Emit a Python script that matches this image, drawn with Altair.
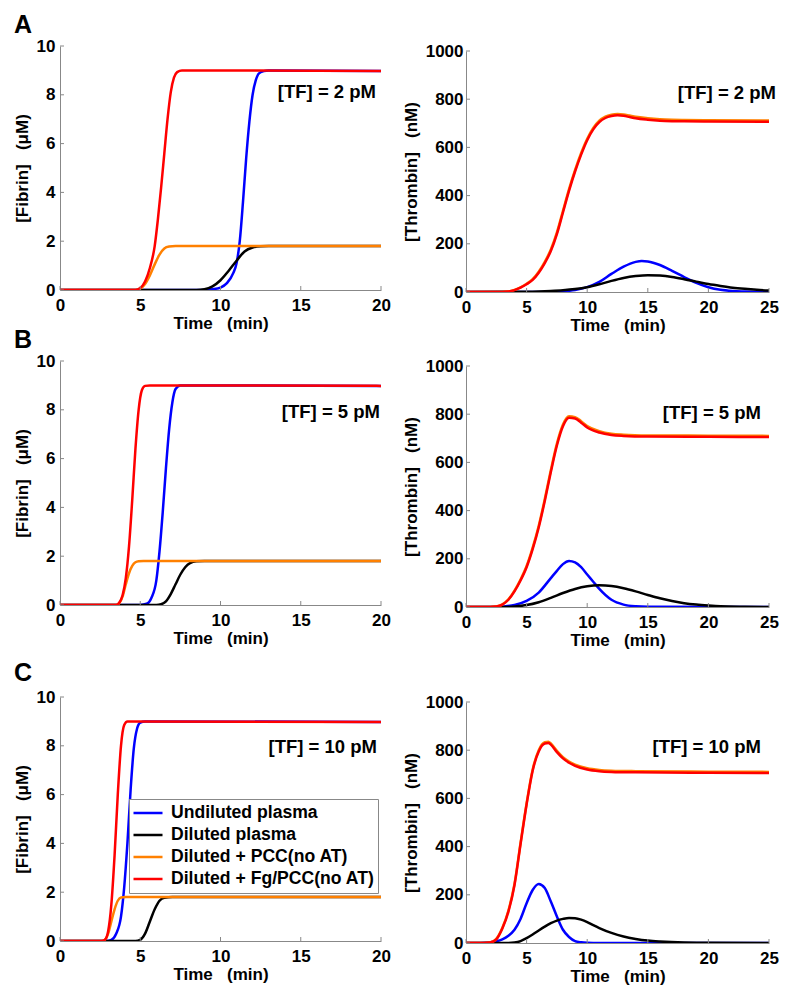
import altair as alt
import pandas as pd

FONT = "Liberation Sans"
SERIES = ["Undiluted plasma", "Diluted plasma", "Diluted + PCC(no AT)", "Diluted + Fg/PCC(no AT)"]
COLORS = ["#0000FF", "#000000", "#FF8000", "#FF0000"]

# ---------------- Panel A, fibrin ([TF] = 2 pM) ----------------
FA_BLUE_T = [0, 9.0, 9.5, 10.0, 10.4, 10.8, 11.0, 11.2, 11.4, 11.6, 11.8, 12.0, 12.2, 12.4, 12.7, 13.0, 20]
FA_BLUE_V = [0, 0, 0.03, 0.1, 0.28, 0.7, 1.1, 2.0, 3.6, 5.4, 6.9, 8.0, 8.6, 8.88, 8.97, 9.0, 8.98]
FA_BLACK_T = [0, 8.5, 9.0, 9.5, 10.0, 10.5, 11.0, 11.5, 12.0, 12.5, 13.0, 20]
FA_BLACK_V = [0, 0, 0.03, 0.15, 0.4, 0.78, 1.2, 1.58, 1.74, 1.79, 1.8, 1.8]
FA_ORANGE_T = [0, 4.7, 5.0, 5.3, 5.6, 5.9, 6.2, 6.5, 6.8, 7.2, 20]
FA_ORANGE_V = [0, 0, 0.06, 0.25, 0.6, 1.05, 1.45, 1.7, 1.78, 1.8, 1.8]
FA_RED_T = [0, 4.7, 5.0, 5.3, 5.6, 5.9, 6.1, 6.3, 6.5, 6.7, 6.9, 7.1, 7.3, 7.6, 20]
FA_RED_V = [0, 0, 0.08, 0.35, 0.9, 1.8, 2.9, 4.2, 5.6, 7.0, 8.1, 8.7, 8.93, 9.0, 8.98]

# ---------------- Panel A, thrombin ----------------
TA_BLUE_T = [0, 6, 7, 8, 9, 10, 11, 12, 13, 14, 14.5, 15, 16, 17, 18, 19, 20, 21, 22, 23, 25]
TA_BLUE_V = [0, 0, 1, 3, 8, 20, 42, 75, 105, 125, 129, 127, 112, 88, 62, 38, 20, 9, 4, 2, 0]
TA_BLACK_T = [0, 5, 6, 7, 8, 9, 10, 11, 12, 13, 14, 15, 16, 17, 18, 19, 20, 21, 22, 23, 24, 25]
TA_BLACK_V = [0, 1, 2, 4, 7, 12, 20, 32, 46, 58, 66, 70, 68, 62, 53, 43, 33, 25, 18, 13, 9, 6]
TA_ORANGE_T = [0, 3.0, 3.5, 4.0, 4.5, 5.0, 5.5, 6.0, 6.5, 7.0, 7.5, 8.0, 8.5, 9.0, 9.5, 10.0, 10.5, 11.0, 11.5, 12.0, 12.5, 13.0, 13.5, 14.0, 15.0, 16.0, 17.0, 18.0, 20.0, 25.0]
TA_ORANGE_V = [0, 0, 2, 9, 19, 34, 53, 84, 125, 176, 247, 337, 427, 507, 577, 636, 681, 711, 728, 736, 739, 737, 732, 727, 721, 717, 715, 714, 713, 712]
TA_RED_T = [0, 3.0, 3.5, 4.0, 4.5, 5.0, 5.5, 6.0, 6.5, 7.0, 7.5, 8.0, 8.5, 9.0, 9.5, 10.0, 10.5, 11.0, 11.5, 12.0, 12.5, 13.0, 13.5, 14.0, 15.0, 16.0, 17.0, 18.0, 20.0, 25.0]
TA_RED_V = [0, 0, 2, 8, 18, 32, 50, 80, 120, 170, 240, 330, 420, 500, 570, 630, 675, 705, 722, 730, 733, 731, 726, 721, 715, 711, 709, 708, 707, 706]

# ---------------- Panel B, fibrin ([TF] = 5 pM) ----------------
FB_BLUE_T = [0, 5.0, 5.4, 5.7, 6.0, 6.2, 6.4, 6.6, 6.8, 7.0, 7.2, 7.5, 20]
FB_BLUE_V = [0, 0, 0.05, 0.3, 1.0, 2.2, 3.8, 5.6, 7.2, 8.3, 8.85, 9.0, 8.98]
FB_BLACK_T = [0, 6.0, 6.3, 6.6, 6.9, 7.2, 7.5, 7.8, 8.1, 8.5, 9.0, 20]
FB_BLACK_V = [0, 0, 0.03, 0.15, 0.45, 0.85, 1.25, 1.55, 1.72, 1.79, 1.8, 1.8]
FB_ORANGE_T = [0, 3.5, 3.7, 3.9, 4.1, 4.3, 4.5, 4.7, 4.9, 5.2, 20]
FB_ORANGE_V = [0, 0, 0.08, 0.35, 0.85, 1.3, 1.6, 1.75, 1.79, 1.8, 1.8]
FB_RED_T = [0, 3.5, 3.7, 3.9, 4.1, 4.3, 4.5, 4.7, 4.9, 5.1, 5.3, 5.6, 20]
FB_RED_V = [0, 0, 0.1, 0.4, 1.1, 2.4, 4.3, 6.4, 8.0, 8.8, 8.98, 9.0, 8.98]

# ---------------- Panel B, thrombin ----------------
TB_BLUE_T = [0, 2, 3, 4, 5, 6, 7, 7.5, 8, 8.5, 9, 9.5, 10, 10.5, 11, 12, 13, 14, 15, 25]
TB_BLUE_V = [0, 0, 2, 8, 25, 60, 120, 150, 178, 191, 185, 165, 135, 105, 75, 30, 10, 3, 1, 0]
TB_BLACK_T = [0, 3, 4, 5, 6, 7, 8, 9, 10, 11, 12, 13, 14, 15, 16, 17, 18, 19, 20, 21, 23, 25]
TB_BLACK_V = [0, 0, 2, 8, 20, 38, 58, 75, 86, 90, 87, 78, 65, 50, 36, 25, 16, 10, 6, 3, 1, 0]
TB_ORANGE_T = [0, 2, 2.5, 3, 3.5, 4, 4.5, 5, 5.5, 6, 6.5, 7, 7.5, 8, 8.5, 9, 9.5, 10, 11, 12, 13, 15, 20, 25]
TB_ORANGE_V = [0, 0, 2, 11, 32, 68, 114, 170, 246, 337, 448, 568, 678, 757, 791, 788, 771, 751, 730, 719, 715, 712, 711, 710]
TB_RED_T = [0, 2, 2.5, 3, 3.5, 4, 4.5, 5, 5.5, 6, 6.5, 7, 7.5, 8, 8.5, 9, 9.5, 10, 11, 12, 13, 15, 20, 25]
TB_RED_V = [0, 0, 2, 10, 30, 65, 110, 165, 240, 330, 440, 560, 670, 750, 785, 782, 765, 745, 724, 714, 710, 707, 706, 705]

# ---------------- Panel C, fibrin ([TF] = 10 pM) ----------------
FC_BLUE_T = [0, 2.9, 3.2, 3.5, 3.8, 4.0, 4.2, 4.4, 4.6, 4.8, 5.0, 5.3, 20]
FC_BLUE_V = [0, 0, 0.05, 0.3, 1.0, 2.2, 4.0, 6.2, 7.9, 8.7, 8.95, 9.0, 8.98]
FC_BLACK_T = [0, 4.7, 5.0, 5.3, 5.6, 5.9, 6.2, 6.5, 7.0, 20]
FC_BLACK_V = [0, 0, 0.05, 0.3, 0.8, 1.3, 1.65, 1.77, 1.8, 1.8]
FC_ORANGE_T = [0, 2.6, 2.8, 3.0, 3.2, 3.4, 3.6, 3.8, 4.1, 20]
FC_ORANGE_V = [0, 0, 0.05, 0.3, 0.8, 1.3, 1.65, 1.78, 1.8, 1.8]
FC_RED_T = [0, 2.6, 2.8, 3.0, 3.2, 3.4, 3.6, 3.8, 4.0, 4.2, 20]
FC_RED_V = [0, 0, 0.05, 0.4, 1.5, 3.5, 6.0, 8.0, 8.85, 9.0, 8.98]

# ---------------- Panel C, thrombin ----------------
TC_BLUE_T = [0, 1, 1.5, 2, 2.5, 3, 3.5, 4, 4.5, 5, 5.5, 6, 6.5, 7, 7.5, 8, 8.5, 9, 9.5, 10, 11, 25]
TC_BLUE_V = [0, 0, 1, 3, 7, 15, 30, 55, 100, 165, 220, 245, 228, 172, 110, 55, 25, 8, 3, 1, 0, 0]
TC_BLACK_T = [0, 3.5, 4, 4.5, 5, 5.5, 6, 6.5, 7, 7.5, 8, 8.5, 9, 9.5, 10, 10.5, 11, 12, 13, 14, 15, 16, 18, 20, 25]
TC_BLACK_V = [0, 0, 2, 8, 20, 35, 52, 68, 82, 93, 100, 104, 103, 97, 87, 74, 62, 42, 27, 17, 10, 6, 2, 1, 0]
TC_ORANGE_T = [0, 1.5, 2, 2.5, 3, 3.5, 4, 4.5, 5, 5.5, 6, 6.5, 6.8, 7, 7.5, 8, 8.5, 9, 10, 11, 12, 14, 20, 25]
TC_ORANGE_V = [0, 0, 2, 17, 63, 135, 245, 415, 580, 720, 800, 833, 835, 828, 797, 771, 753, 740, 725, 718, 715, 713, 711, 710]
TC_RED_T = [0, 1.5, 2, 2.5, 3, 3.5, 4, 4.5, 5, 5.5, 6, 6.5, 6.8, 7, 7.5, 8, 8.5, 9, 10, 11, 12, 14, 20, 25]
TC_RED_V = [0, 0, 2, 15, 60, 130, 240, 410, 575, 715, 795, 828, 830, 823, 792, 766, 748, 735, 720, 713, 710, 708, 706, 705]

FIB_TICKS_X = [0, 5, 10, 15, 20]
THR_TICKS_X = [0, 5, 10, 15, 20, 25]
FIB_TICKS_Y = [0, 2, 4, 6, 8, 10]
THR_TICKS_Y = [0, 200, 400, 600, 800, 1000]


def make_df(pairs):
    rows = []
    for name, (ts, vs) in zip(SERIES, pairs):
        for t, v in zip(ts, vs):
            rows.append({"t": t, "v": v, "s": name})
    return pd.DataFrame(rows)


def panel(pairs, xticks, yticks, ytitle, w, h, tf_text, tf_dx, tf_y,
          ylabpad, letter=None, letter_y=-33, legend=False, ytop=0):
    df = make_df(pairs)
    x_enc = alt.X("t:Q",
                  scale=alt.Scale(domain=[xticks[0], xticks[-1]], nice=False, zero=False),
                  axis=alt.Axis(values=xticks, title="Time\u00a0\u00a0\u00a0(min)",
                                labelPadding=7, titlePadding=2, format="d", labelFlush=False))
    y_enc = alt.Y("v:Q",
                  scale=alt.Scale(domain=[yticks[0], yticks[-1]], nice=False, range=[h, ytop]),
                  axis=alt.Axis(values=yticks, title=ytitle, labelPadding=ylabpad,
                                titlePadding=5, format="d", labelFlush=False))
    if legend:
        leg = alt.Legend(orient="none", legendX=69, legendY=102, title=None,
                         symbolType="stroke", symbolSize=841, symbolStrokeWidth=2.5,
                         clipHeight=22, labelLimit=400,
                         labelFont=FONT, labelFontSize=17.6, labelFontWeight="bold",
                         labelColor="black", labelOffset=7, padding=3, rowPadding=0,
                         strokeColor="#888888", fillColor="white", cornerRadius=0)
    else:
        leg = None
    lines = alt.Chart(df).mark_line(strokeWidth=2.5, interpolate="monotone", clip=True).encode(
        x=x_enc, y=y_enc,
        color=alt.Color("s:N", scale=alt.Scale(domain=SERIES, range=COLORS), legend=leg),
    )
    xt = alt.Chart(pd.DataFrame({"t": xticks})).mark_rule(color="#888888", strokeWidth=1).encode(
        x=x_enc, y=alt.value(h), y2=alt.value(h - 4))
    yt = alt.Chart(pd.DataFrame({"v": yticks})).mark_rule(color="#888888", strokeWidth=1).encode(
        y=y_enc, x=alt.value(0), x2=alt.value(4))
    tf = alt.Chart(pd.DataFrame({"lab": [tf_text]})).mark_text(
        align="right", baseline="alphabetic", font=FONT, fontSize=18.5, fontWeight="bold",
        color="black").encode(x=alt.value(w - tf_dx), y=alt.value(tf_y), text="lab:N")
    layers = [lines, xt, yt, tf]
    if letter:
        lt = alt.Chart(pd.DataFrame({"lab": [letter]})).mark_text(
            align="left", baseline="top", font=FONT, fontSize=25, fontWeight="bold",
            color="black").encode(x=alt.value(-46), y=alt.value(letter_y), text="lab:N")
        layers.append(lt)
    return alt.layer(*layers).properties(width=w, height=h)


FIB_TITLE = "[Fibrin]\u00a0\u00a0\u00a0(\u03bcM)"
THR_TITLE = "[Thrombin]\u00a0\u00a0\u00a0(nM)"
LW, RW, LH, RH, RTOP = 321, 303, 244, 246, 5

fa = panel([(FA_BLUE_T, FA_BLUE_V), (FA_BLACK_T, FA_BLACK_V), (FA_ORANGE_T, FA_ORANGE_V), (FA_RED_T, FA_RED_V)],
           FIB_TICKS_X, FIB_TICKS_Y, FIB_TITLE, LW, LH, "[TF] = 2 pM", 5, 52, 5, letter="A", letter_y=-33)
ta = panel([(TA_BLUE_T, TA_BLUE_V), (TA_BLACK_T, TA_BLACK_V), (TA_ORANGE_T, TA_ORANGE_V), (TA_RED_T, TA_RED_V)],
           THR_TICKS_X, THR_TICKS_Y, THR_TITLE, RW, RH, "[TF] = 2 pM", -7, 53, 3, ytop=RTOP)
fb = panel([(FB_BLUE_T, FB_BLUE_V), (FB_BLACK_T, FB_BLACK_V), (FB_ORANGE_T, FB_ORANGE_V), (FB_RED_T, FB_RED_V)],
           FIB_TICKS_X, FIB_TICKS_Y, FIB_TITLE, LW, LH, "[TF] = 5 pM", 1, 57, 5, letter="B", letter_y=-33)
tb = panel([(TB_BLUE_T, TB_BLUE_V), (TB_BLACK_T, TB_BLACK_V), (TB_ORANGE_T, TB_ORANGE_V), (TB_RED_T, TB_RED_V)],
           THR_TICKS_X, THR_TICKS_Y, THR_TITLE, RW, RH, "[TF] = 5 pM", 8, 58, 3, ytop=RTOP)
fc = panel([(FC_BLUE_T, FC_BLUE_V), (FC_BLACK_T, FC_BLACK_V), (FC_ORANGE_T, FC_ORANGE_V), (FC_RED_T, FC_RED_V)],
           FIB_TICKS_X, FIB_TICKS_Y, FIB_TITLE, LW, LH, "[TF] = 10 pM", 4, 56, 5, letter="C", letter_y=-36,
           legend=True)
tc = panel([(TC_BLUE_T, TC_BLUE_V), (TC_BLACK_T, TC_BLACK_V), (TC_ORANGE_T, TC_ORANGE_V), (TC_RED_T, TC_RED_V)],
           THR_TICKS_X, THR_TICKS_Y, THR_TITLE, RW, RH, "[TF] = 10 pM", 8, 56, 3, ytop=RTOP)

IND = dict(x="independent", y="independent", color="independent")


def row(a, b):
    return alt.hconcat(a, b, spacing=85, bounds="flush").resolve_scale(**IND)


inner = alt.vconcat(row(fa, ta), row(fb, tb), spacing=-5).resolve_scale(**IND)
top = alt.vconcat(inner, row(fc, tc), spacing=13).resolve_scale(**IND)

chart = (
    top.properties(padding={"left": 5, "top": 5, "right": 5, "bottom": 5})
    .configure(font=FONT)
    .configure_view(stroke=None)
    .configure_axis(domainColor="#888888", domainWidth=1, ticks=False, grid=False,
                    labelFont=FONT, labelFontSize=17, labelFontWeight="bold", labelColor="black",
                    titleFont=FONT, titleFontSize=17, titleFontWeight="bold", titleColor="black")
)

chart.save("out.html", embed_options={"renderer": "svg", "actions": False})
